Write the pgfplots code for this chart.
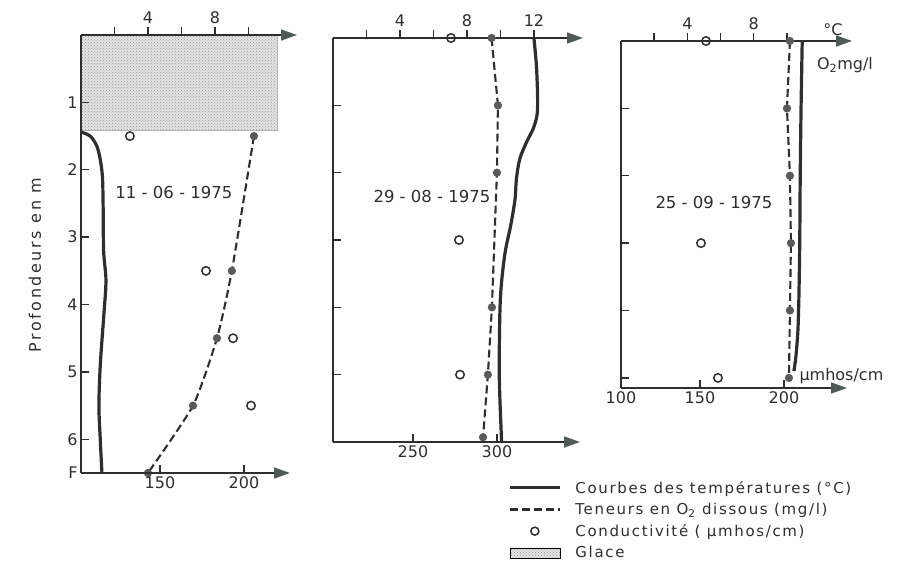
\documentclass[border=0pt]{standalone}
\usepackage{pgfplots}
\pgfplotsset{compat=1.18}
\usepackage{fontspec}
\setmainfont{DejaVu Sans}
\usetikzlibrary{patterns,arrows.meta}
\definecolor{ink}{HTML}{2E2E2E}
\definecolor{arr}{HTML}{4F5A54}
\definecolor{dotc}{HTML}{5A5A5A}
\tikzset{datelab/.style={font=\fontsize{16.5}{16.5}\selectfont, text=ink}}
\pgfplotsset{
  base/.style={scale only axis, y dir=reverse, clip=false, major tick length=8pt,
    axis line style={line width=1.6pt, ink},
    tick style={line width=1.4pt, ink},
    ticklabel style={font=\fontsize{16}{16}\selectfont, text=ink},
    /pgf/number format/assume math mode=true},
  tempax/.style={base, axis x line=top, axis y line=left,
    x axis line style={-{Triangle[length=16pt,width=11pt,color=arr]}},
    y axis line style={-}, xtick align=outside, ytick align=inside},
  condax/.style={base, axis x line=bottom, axis y line=none, ytick=\empty,
    x axis line style={-{Triangle[length=16pt,width=11pt,color=arr]}}, xtick align=inside},
  Tline/.style={ink, line width=3.2pt, smooth, no markers},
  Oline/.style={ink, line width=2.1pt, dash pattern=on 8pt off 4pt, mark=*, mark size=3pt,
    mark options={solid, fill=dotc, draw=dotc}},
  Cmark/.style={only marks, mark=o, mark size=4.2pt, mark options={ink, line width=1.5pt, fill=white}},
}
\begin{document}
\begin{tikzpicture}[x=1pt,y=1pt]
\useasboundingbox (0pt,0pt) rectangle (897pt,560pt);
% ---------- Panel 1 : 11-06-1975 ----------
\begin{axis}[tempax, at={(81pt,525pt)}, anchor=north west, width=216pt, height=438pt,
  xmin=0, xmax=12.9, ymin=0, ymax=6.5, axis on top,
  xtick={2,4,6,8,10}, xticklabels={,4,,8,},
  ytick={1,2,3,4,5,6,6.5}, yticklabels={1,2,3,4,5,6,F},
  ylabel={\addfontfeatures{LetterSpace=16}Profondeurs en m},
  ylabel style={at={(axis description cs:-0.213,0.475)}, anchor=center, font=\fontsize{16}{16}\selectfont, text=ink}]
\addplot[draw=gray!60, line width=0.4pt, fill=gray!22, postaction={pattern=crosshatch dots, pattern color=gray!80}]
  coordinates {(0,0) (11.7,0) (11.7,1.42) (0,1.42)} -- cycle;
\addplot[Tline] coordinates {(0,1.44)(0.55,1.5)(0.95,1.65)(1.15,1.85)(1.28,2.1)(1.32,2.5)(1.35,3.2)(1.49,3.65)(1.35,4.2)(1.15,4.9)(1.07,5.5)(1.15,6.0)(1.25,6.5)};
\addplot[Oline, smooth, tension=0.35] coordinates {(10.33,1.5)(9.01,3.5)(8.12,4.5)(6.69,5.5)(4.0,6.5)};
\node[datelab] at (axis cs:5.55,2.34) {11 - 06 - 1975};
\end{axis}
\begin{axis}[condax, at={(81pt,525pt)}, anchor=north west, width=209pt, height=438pt,
  xmin=103, xmax=227.4, ymin=0, ymax=6.5, xtick={150,200}]
\addplot[Cmark] coordinates {(132.1,1.5)(177.4,3.5)(193.5,4.5)(204.2,5.5)};
\end{axis}
% ---------- Panel 2 : 29-08-1975 ----------
\begin{axis}[tempax, at={(333pt,522pt)}, anchor=north west, width=250pt, height=404pt,
  xmin=0, xmax=14.93, ymin=0, ymax=6,
  xtick={2,4,6,8,10,12}, xticklabels={,4,,8,,12},
  ytick={1,2,3,4,5}, yticklabels={}]
\addplot[Tline] coordinates {(12.0,0)(12.15,0.42)(12.22,0.9)(12.18,1.15)(11.95,1.35)(11.55,1.55)(11.15,1.8)(10.95,2.1)(10.87,2.4)(10.6,2.8)(10.3,3.15)(10.08,3.59)(9.97,4.04)(9.93,5.02)(10.07,6.0)};
\addplot[Oline] coordinates {(9.47,0)(9.85,1)(9.79,2)(9.49,4)(9.25,5)(8.96,5.93)};
\node[datelab] at (axis cs:5.91,2.36) {29 - 08 - 1975};
\end{axis}
\begin{axis}[condax, at={(333pt,522pt)}, anchor=north west, width=247pt, height=404pt,
  xmin=202.4, xmax=349.4, ymin=0, ymax=6, xtick={250,300}]
\addplot[Cmark] coordinates {(272.6,0)(277.4,3)(278,5)};
\end{axis}
% ---------- Panel 3 : 25-09-1975 ----------
\begin{axis}[tempax, at={(621pt,519pt)}, anchor=north west, width=231pt, height=347pt,
  xmin=0, xmax=13.92, ymin=0, ymax=5.15,
  xtick={2,4,6,8,10}, xticklabels={,4,,8,},
  ytick={1,2,3,4,5}, yticklabels={}]
\addplot[Tline] coordinates {(10.92,0)(10.85,1)(10.8,2)(10.77,3)(10.72,3.8)(10.66,4.3)(10.54,4.68)(10.42,4.9)};
\addplot[Oline] coordinates {(10.18,0)(10.0,1)(10.18,2)(10.24,3)(10.18,4)(10.12,5)};
\node[datelab] at (axis cs:5.6,2.39) {25 - 09 - 1975};
\end{axis}
\begin{axis}[condax, at={(621pt,519pt)}, anchor=north west, width=226pt, height=347pt,
  xmin=103, xmax=237.5, ymin=0, ymax=5.15, xtick={103,150,200}, xticklabels={100,150,200},
  legend style={at={(axis description cs:-0.513,-0.256)}, anchor=north west, draw=none, fill=none,
    font=\fontsize{15}{15}\selectfont\addfontfeatures{LetterSpace=11}, text=ink, row sep=4.5pt, cells={anchor=west},
    /tikz/every odd column/.append style={column sep=12pt}}]
\addplot[Cmark, forget plot] coordinates {(153.6,0)(150.6,3)(160.7,5)};
\addlegendimage{legend image code/.code={\draw[ink, line width=3.2pt] (0pt,0pt) -- (50pt,0pt);}}
\addlegendentry{Courbes des températures (°C)}
\addlegendimage{legend image code/.code={\draw[ink, line width=2.1pt, dash pattern=on 8pt off 4pt] (0pt,0pt) -- (50pt,0pt);}}
\addlegendentry{Teneurs en O\textsubscript{2} dissous (mg/l)}
\addlegendimage{legend image code/.code={\draw[ink, line width=1.5pt] (25pt,0pt) circle (4pt);}}
\addlegendentry{Conductivité ( µmhos/cm)}
\addlegendimage{legend image code/.code={\fill[gray!22] (0pt,-5pt) rectangle (50pt,5pt); \fill[pattern=crosshatch dots, pattern color=gray!80] (0pt,-5pt) rectangle (50pt,5pt);}}
\addlegendentry{Glace}
\end{axis}
\node[font=\fontsize{16}{16}\selectfont, text=ink] at (833pt,530pt) {°C};
\node[font=\fontsize{16}{16}\selectfont, text=ink] at (845pt,495pt) {O\textsubscript{2}mg/l};
\node[font=\fontsize{16}{16}\selectfont, text=ink, anchor=west] at (796pt,184pt) {µmhos/cm};
\end{tikzpicture}
\end{document}
